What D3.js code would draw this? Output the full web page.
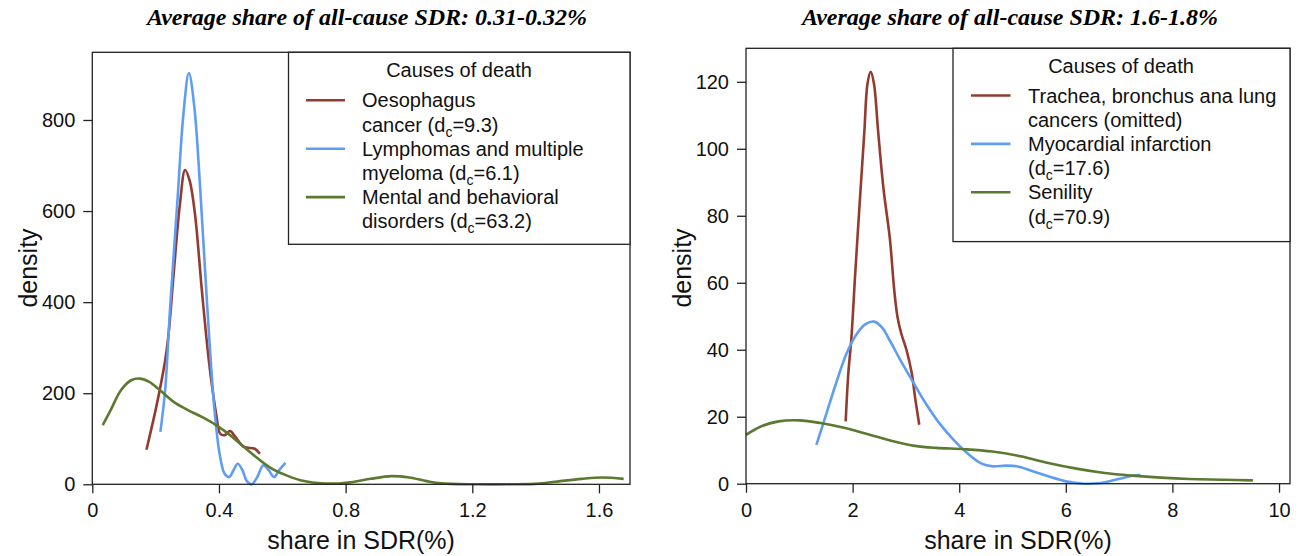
<!DOCTYPE html>
<html>
<head>
<meta charset="utf-8">
<script src="https://cdn.jsdelivr.net/npm/d3@7/dist/d3.min.js"></script>
<style>
  body { margin: 0; background: #fff; }
  svg { display: block; }
</style>
</head>
<body>
<div id="chart"></div>
<script>
// ---- data: [share in SDR (%), density] ----
const oesophagus = [[0.171,76],[0.202,170],[0.230,272],[0.241,331],[0.257,463],[0.277,617],[0.293,690],
  [0.307,668],[0.324,595],[0.346,426],[0.368,272],[0.391,155],[0.404,111],[0.418,108],[0.435,117],
  [0.452,104],[0.479,82],[0.513,78],[0.529,67]];
const lymphomas = [[0.215,115],[0.230,207],[0.246,390],[0.269,624],[0.288,815],[0.305,903],[0.322,830],
  [0.341,646],[0.363,390],[0.385,170],[0.402,67],[0.418,23],[0.432,16],[0.446,31],[0.459,45],[0.474,31],
  [0.488,7],[0.504,0],[0.521,16],[0.540,42],[0.557,31],[0.574,16],[0.590,31],[0.610,47]];
const mental = [[0.033,130],[0.058,163],[0.091,207],[0.124,229],[0.152,232],[0.180,225],[0.213,207],
  [0.257,181],[0.302,163],[0.346,148],[0.391,130],[0.435,108],[0.479,82],[0.524,56],[0.568,34],[0.612,20],
  [0.657,9],[0.712,3],[0.768,1.5],[0.823,5],[0.879,12],[0.945,18],[1.001,15],[1.056,7],[1.101,2],
  [1.212,0],[1.323,0],[1.411,1.5],[1.478,7],[1.545,12],[1.611,15],[1.678,12]];

const trachea = [[1.87,18.6],[1.92,33],[1.975,43],[2.05,63],[2.15,88],[2.22,105],[2.28,119.5],[2.34,123],
  [2.40,119.5],[2.48,105],[2.58,88],[2.70,73],[2.78,58],[2.84,50],[2.91,45],[3.01,40],[3.11,33],
  [3.17,26],[3.25,17.6]];
const myocardial = [[1.32,11.6],[1.49,20],[1.69,30],[1.89,39],[2.09,45],[2.25,47.7],[2.40,48.4],[2.55,46.7],
  [2.71,42.4],[2.91,36.5],[3.11,31],[3.37,24],[3.63,18],[3.90,13],[4.16,9],[4.42,6],[4.62,5.2],[4.88,5.4],
  [5.08,5.2],[5.35,3.9],[5.67,2.2],[6.00,0.7],[6.33,0],[6.66,0.2],[6.99,1.4],[7.25,2.4],[7.40,2.6]];
const senility = [[0,14.6],[0.28,17.1],[0.61,18.6],[1.00,18.9],[1.40,18.1],[1.86,16.6],[2.32,14.6],[2.78,12.6],
  [3.17,11.3],[3.57,10.7],[4.09,10.3],[4.62,9.6],[5.15,8.2],[5.67,6.2],[6.20,4.5],[6.73,3.2],[7.25,2.4],
  [7.78,1.8],[8.31,1.4],[8.97,1.2],[9.51,1.0]];

const leftXTicks = [0, 0.4, 0.8, 1.2, 1.6];
const leftYTicks = [0, 200, 400, 600, 800];
const rightXTicks = [0, 2, 4, 6, 8, 10];
const rightYTicks = [0, 20, 40, 60, 80, 100, 120];

const leftTitle = 'Average share of all-cause SDR: 0.31-0.32%';
const rightTitle = 'Average share of all-cause SDR: 1.6-1.8%';
const leftLegend = [
  ['Oesophagus', ['cancer (d', 'c', '=9.3)']],
  ['Lymphomas and multiple', ['myeloma (d', 'c', '=6.1)']],
  ['Mental and behavioral', ['disorders (d', 'c', '=63.2)']],
];
const rightLegend = [
  ['Trachea, bronchus ana lung', ['cancers (omitted)']],
  ['Myocardial infarction', ['(d', 'c', '=17.6)']],
  ['Senility', ['(d', 'c', '=70.9)']],
];

const COLORS = ['#933b2f', '#5f9df2', '#5b7a30'];
const SANS = '"Liberation Sans", Arial, sans-serif';

const svg = d3.select('#chart').append('svg')
    .attr('width', 1299)
    .attr('height', 556)
    .attr('font-family', SANS);

drawPanel({
    left: 92.3, right: 630, top: 52.3, bottom: 484.3,
    xDomain: [0, 1.698], yDomain: [0, 948.6],
    xTicks: leftXTicks, yTicks: leftYTicks,
    series: [oesophagus, lymphomas, mental],
    title: leftTitle, titleX: 367,
    legend: leftLegend,
    legendBox: {x: 288.5, y: 52.3, w: 341.5, h: 192},
    legendTitleX: 459, legendTitleY: 70,
    legendLineX: [306, 345], legendTextX: 362, legendRowY: 100.3,
});

drawPanel({
    left: 746, right: 1290, top: 48.3, bottom: 483.7,
    xDomain: [0, 10.206], yDomain: [0, 130],
    xTicks: rightXTicks, yTicks: rightYTicks,
    series: [trachea, myocardial, senility],
    title: rightTitle, titleX: 1010,
    legend: rightLegend,
    legendBox: {x: 953, y: 48.3, w: 337, h: 193.3},
    legendTitleX: 1121, legendTitleY: 66,
    legendLineX: [971, 1010.5], legendTextX: 1028, legendRowY: 95.5,
});

function drawPanel(p) {
    const x = d3.scaleLinear().domain(p.xDomain).range([p.left, p.right]);
    const y = d3.scaleLinear().domain(p.yDomain).range([p.bottom, p.top]);
    const g = svg.append('g');

    // curves
    const line = d3.line()
        .x((d) => x(d[0]))
        .y((d) => y(d[1]))
        .curve(d3.curveCatmullRom.alpha(0.5));

    p.series.forEach((s, i) => {
        g.append('path')
            .datum(s)
            .attr('fill', 'none')
            .attr('stroke', COLORS[i])
            .attr('stroke-width', 2.6)
            .attr('stroke-linejoin', 'round')
            .attr('d', line);
    });

    // axes
    g.append('g')
        .attr('transform', `translate(0,${p.bottom})`)
        .call(d3.axisBottom(x).tickValues(p.xTicks).tickSize(9).tickPadding(10).tickFormat(d3.format('~g')))
        .call(styleAxis);

    g.append('g')
        .attr('transform', `translate(${p.left},0)`)
        .call(d3.axisLeft(y).tickValues(p.yTicks).tickSize(9).tickPadding(8).tickFormat(d3.format('~g')))
        .call(styleAxis);

    // frame
    g.append('rect')
        .attr('x', p.left).attr('y', p.top)
        .attr('width', p.right - p.left).attr('height', p.bottom - p.top)
        .attr('fill', 'none')
        .attr('stroke', '#222')
        .attr('stroke-width', 1.3);

    // axis titles
    g.append('text')
        .attr('x', (p.left + p.right) / 2)
        .attr('y', 540)
        .attr('text-anchor', 'middle')
        .attr('dominant-baseline', 'central')
        .attr('font-size', 25)
        .attr('fill', '#111')
        .text('share in SDR(%)');

    g.append('text')
        .attr('transform', `translate(${p.left - 64},268) rotate(-90)`)
        .attr('text-anchor', 'middle')
        .attr('dominant-baseline', 'central')
        .attr('font-size', 25)
        .attr('fill', '#111')
        .text('density');

    // panel title
    g.append('text')
        .attr('x', p.titleX)
        .attr('y', 17)
        .attr('text-anchor', 'middle')
        .attr('dominant-baseline', 'central')
        .attr('font-family', '"Liberation Serif", "Times New Roman", serif')
        .attr('font-style', 'italic')
        .attr('font-weight', 'bold')
        .attr('font-size', 24)
        .text(p.title);

    // legend
    const b = p.legendBox;
    const lg = g.append('g');
    lg.append('rect')
        .attr('x', b.x).attr('y', b.y)
        .attr('width', b.w).attr('height', b.h)
        .attr('fill', '#fff')
        .attr('stroke', '#222')
        .attr('stroke-width', 1.3);

    lg.append('text')
        .attr('x', p.legendTitleX)
        .attr('y', p.legendTitleY)
        .attr('text-anchor', 'middle')
        .attr('dy', '0.35em')
        .attr('font-size', 20)
        .attr('fill', '#111')
        .text('Causes of death');

    const rowH = 24.2;
    p.legend.forEach((entry, i) => {
        const cy = p.legendRowY + i * 2 * rowH;
        lg.append('line')
            .attr('x1', p.legendLineX[0]).attr('x2', p.legendLineX[1])
            .attr('y1', cy).attr('y2', cy)
            .attr('stroke', COLORS[i])
            .attr('stroke-width', 2.6);

        lg.append('text')
            .attr('x', p.legendTextX).attr('y', cy)
            .attr('dy', '0.35em')
            .attr('font-size', 20)
            .attr('fill', '#111')
            .text(entry[0]);

        const t2 = lg.append('text')
            .attr('x', p.legendTextX).attr('y', cy + rowH)
            .attr('dy', '0.35em')
            .attr('font-size', 20)
            .attr('fill', '#111');
        const parts = entry[1];
        t2.append('tspan').text(parts[0]);
        if (parts.length > 1) {
            t2.append('tspan').attr('dy', 5).attr('font-size', 14).text(parts[1]);
            t2.append('tspan').attr('dy', -5).text(parts[2]);
        }
    });
}

function styleAxis(sel) {
    sel.select('.domain').remove();
    sel.selectAll('.tick line').attr('stroke', '#222').attr('stroke-width', 1.3);
    sel.selectAll('.tick text')
        .attr('font-size', 20)
        .attr('font-family', SANS)
        .attr('fill', '#111');
}
</script>
</body>
</html>
